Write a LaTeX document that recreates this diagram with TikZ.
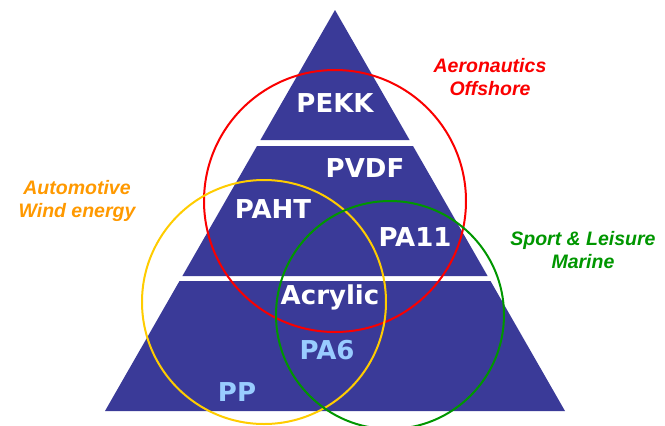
\documentclass[tikz,border=0pt]{standalone}
\usepackage{fontspec}
\setmainfont{Liberation Sans}
\newfontfamily\labelfont{DejaVu Sans}
\definecolor{pyrblue}{RGB}{58,58,152}
\definecolor{paleblue}{RGB}{153,204,255}
\definecolor{ringred}{RGB}{250,0,0}
\definecolor{ringyellow}{RGB}{255,204,0}
\definecolor{ringgreen}{RGB}{0,150,0}
\definecolor{txtorange}{RGB}{255,153,0}
\begin{document}
\begin{tikzpicture}[x=1pt,y=-1pt,
  tier/.style={fill=pyrblue, draw=none},
  polymer/.style={font=\labelfont\bfseries\fontsize{26}{30}\selectfont, text=white, inner sep=0pt},
  market/.style={font=\bfseries\itshape\fontsize{19.5}{23.5}\selectfont, align=center, inner sep=0pt},
  ring/.style={circle, draw, line width=2pt, inner sep=0pt, fill=none}]
\useasboundingbox (0,0) rectangle (665,426);
% pyramid tiers
\fill [tier] (335,10) -- (409.6,140) -- (260.4,140) -- cycle;
\fill [tier] (413.0,146) -- (487.6,276) -- (182.4,276) -- (257.0,146) -- cycle;
\fill [tier] (490.5,281) -- (565,411) -- (105,411) -- (179.5,281) -- cycle;
% polymer names
\node [polymer] (pekk) at (335,103) {PEKK};
\node [polymer] (pvdf) at (365,168) {PVDF};
\node [polymer] (paht) at (273,209) {PAHT};
\node [polymer] (pa11) at (415,237) {PA11};
\node [polymer] (acrylic) at (330,297) {Acrylic};
\node [polymer, text=paleblue] (pa6) at (327,350) {PA6};
\node [polymer, text=paleblue] (pp) at (237,392) {PP};
% market rings
\node [ring, draw=ringred, minimum size=262pt] (aero) at (335,201) {};
\node [ring, draw=ringyellow, minimum size=244pt] (auto) at (264,302) {};
\node [ring, draw=ringgreen, minimum size=228pt] (sport) at (390,315) {};
% market names
\node [market, text=ringred] (aerotxt) at (490,77) {Aeronautics\\Offshore};
\node [market, text=txtorange] (autotxt) at (77,201) {Automotive\\Wind energy};
\node [market, text=ringgreen] (sporttxt) at (583,250) {Sport \& Leisure\\Marine};
\end{tikzpicture}
\end{document}
